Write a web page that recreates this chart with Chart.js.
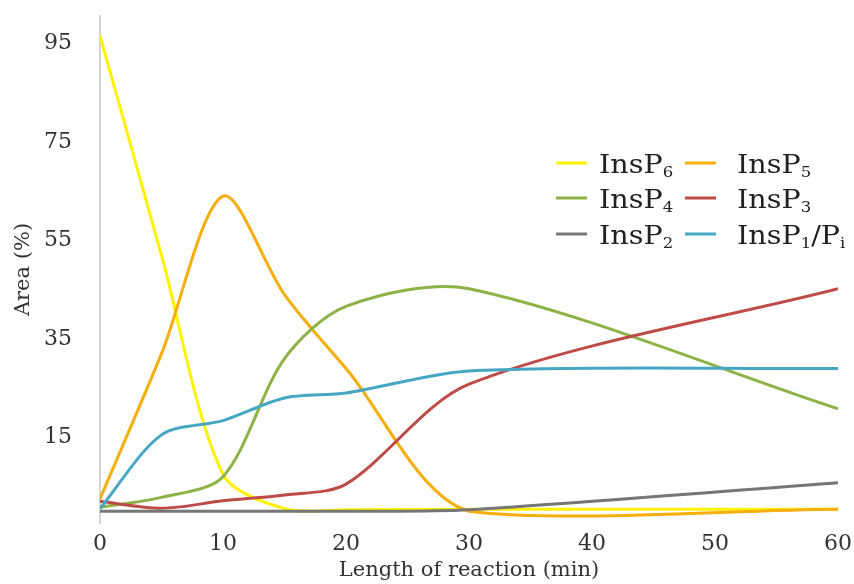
<!DOCTYPE html>
<html>
<head>
<meta charset="utf-8">
<script src="https://cdn.jsdelivr.net/npm/chart.js@4/dist/chart.umd.min.js"></script>
<style>
  html, body { margin: 0; padding: 0; background: #fff; }
  #wrap { position: relative; width: 854px; height: 584px; }
</style>
</head>
<body>
<div id="wrap"><canvas id="chart" width="854" height="584"></canvas></div>
<script>
// sampling times (min)
var minutes = [0, 5, 10, 15, 20, 30, 60];

// area (%) per species
var insP6 = [96.6, 52.0, 7.5, 0.5, 0.3, 0.4, 0.4];
var insP5 = [2.5, 32.0, 64.0, 44.0, 29.0, 0.0, 0.4];
var insP4 = [0.8, 2.8, 7.0, 31.0, 41.6, 45.2, 20.8];
var insP3 = [2.0, 0.6, 2.1, 3.3, 5.5, 25.8, 45.2];
var insP2 = [0.0, 0.0, 0.0, 0.0, 0.0, 0.3, 5.8];
var insP1 = [0.5, 15.5, 18.4, 23.0, 24.0, 28.5, 29.0];

// "_x" marks a one-character subscript
var seriesNames = ['InsP_6', 'InsP_5', 'InsP_4', 'InsP_3', 'InsP_2', 'InsP_1/P_i'];
var seriesColors = ['#FFF200', '#F5AE0A', '#8DB246', '#BE4B48', '#767676', '#46A7C4'];
var yTickValues = [15, 35, 55, 75, 95];

var FONT = "'DejaVu Serif', serif";

function toPoints(values) {
  return values.map(function (v, i) { return { x: minutes[i], y: v }; });
}

var allSeries = [insP6, insP5, insP4, insP3, insP2, insP1];
var datasets = allSeries.map(function (vals, i) {
  return {
    label: seriesNames[i].replace(/_/g, ''),
    data: toPoints(vals),
    borderColor: seriesColors[i],
    backgroundColor: seriesColors[i],
    order: 10 - i // later series drawn on top, like the original
  };
});

// two-column legend with subscripts, drawn on the canvas
var legendPlugin = {
  id: 'subLegend',
  afterDraw: function (chart) {
    var ctx = chart.ctx;
    var lineX = [556, 685];
    var textX = [599, 737];
    var rowY = [163, 198, 234];
    ctx.save();
    seriesNames.forEach(function (name, i) {
      var col = i % 2, row = Math.floor(i / 2);
      var y = rowY[row];
      ctx.strokeStyle = seriesColors[i];
      ctx.lineWidth = 3;
      ctx.beginPath();
      ctx.moveTo(lineX[col], y);
      ctx.lineTo(lineX[col] + 31, y);
      ctx.stroke();

      // original text is slightly wide, stretch it a little
      ctx.save();
      ctx.translate(textX[col], y + 9.5);
      ctx.scale(1.1, 1);
      ctx.fillStyle = '#222';
      ctx.textBaseline = 'alphabetic';
      var x = 0;
      for (var k = 0; k < name.length; k++) {
        var ch = name[k];
        if (ch === '_') {
          k++;
          ctx.font = '15px ' + FONT;
          ctx.fillText(name[k], x, 4);
          x += ctx.measureText(name[k]).width;
        } else {
          ctx.font = '26px ' + FONT;
          ctx.fillText(ch, x, 0);
          x += ctx.measureText(ch).width;
        }
      }
      ctx.restore();
    });
    ctx.restore();
  }
};

function noPad(s) {
  s.paddingLeft = 0;
  s.paddingRight = 0;
  s.paddingTop = 0;
  s.paddingBottom = 0;
}

new Chart(document.getElementById('chart'), {
  type: 'line',
  data: { datasets: datasets },
  options: {
    responsive: false,
    animation: false,
    layout: { padding: { top: 16, right: 16, left: 0, bottom: 0 } },
    plugins: {
      legend: { display: false },
      tooltip: { enabled: false }
    },
    elements: {
      point: { radius: 0 },
      line: { tension: 0.3, borderWidth: 3, fill: false }
    },
    scales: {
      x: {
        type: 'linear',
        min: 0,
        max: 60,
        grid: { display: false, drawTicks: false },
        border: { display: false },
        ticks: { stepSize: 10, padding: 8, color: '#333', font: { family: FONT, size: 22 } },
        title: {
          display: true,
          text: 'Length of reaction (min)',
          color: '#333',
          font: { family: FONT, size: 21 },
          padding: { top: 0, bottom: 1 }
        },
        afterFit: function (s) { s.height = 61; noPad(s); }
      },
      y: {
        min: -2.4,
        max: 100.6,
        grid: { display: false, drawTicks: false },
        border: { display: true, color: '#d4d4d4', width: 2 },
        afterBuildTicks: function (s) {
          s.ticks = yTickValues.map(function (v) { return { value: v }; });
        },
        ticks: { padding: 28, color: '#333', font: { family: FONT, size: 22 } },
        title: {
          display: true,
          text: 'Area (%)',
          color: '#333',
          font: { family: FONT, size: 21 },
          padding: { top: 11, bottom: 0 }
        },
        afterFit: function (s) { s.width = 100; noPad(s); }
      }
    }
  },
  plugins: [legendPlugin]
});
</script>
</body>
</html>
